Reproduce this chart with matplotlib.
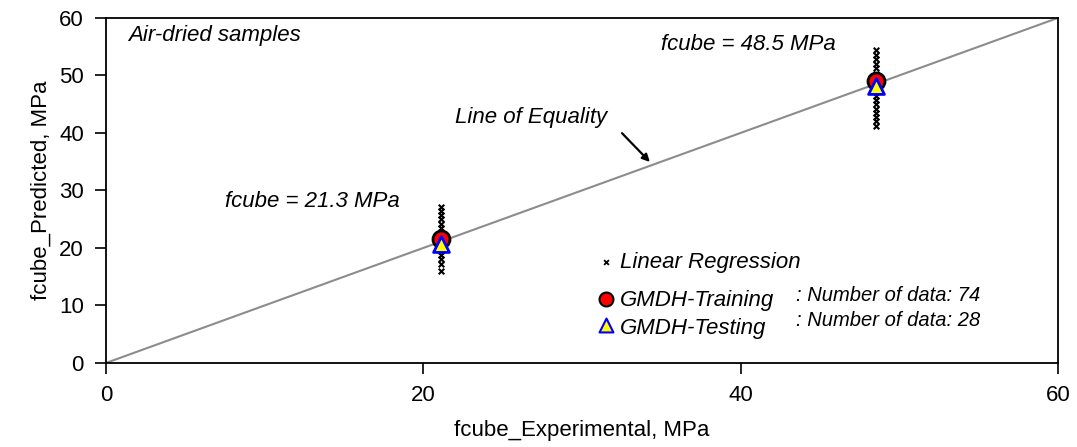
import numpy as np
import matplotlib
matplotlib.use("Agg")
from matplotlib import pyplot as plt

plt.rcParams['font.family'] = ['Liberation Sans', 'DejaVu Sans']

# experimental strength groups
exp_low = 21.1
exp_high = 48.5

# linear regression predictions
lr_low = [16.0, 17.2, 18.0, 18.8, 19.5, 20.2, 21.0, 22.0, 22.8, 23.5, 24.2, 25.0, 25.8, 26.5, 27.2]
lr_high = [41.2, 42.0, 42.8, 43.5, 44.2, 45.0, 45.8, 46.5, 47.2, 50.3, 51.2, 52.0, 52.8, 53.6, 54.5]

# GMDH predictions
train_x = [exp_low, exp_high]
train_y = [21.5, 49.0]
test_x = [exp_low, exp_high]
test_y = [20.7, 48.1]

fig = plt.figure(figsize=(10.77, 4.47), dpi=100)
ax = fig.add_axes([0.0984, 0.188, 0.884, 0.772])

ax.plot([0, 60], [0, 60], color='#8c8c8c', lw=1.5, ls='-', zorder=1)

ax.scatter([exp_low] * len(lr_low), lr_low, marker='x', s=16, color='black', lw=1.5, zorder=2)
ax.scatter([exp_high] * len(lr_high), lr_high, marker='x', s=16, color='black', lw=1.5, zorder=2)
ax.scatter(train_x, train_y, marker='o', s=150, facecolor='red', edgecolor='black', lw=2, zorder=3)
ax.scatter(test_x, test_y, marker='^', s=130, facecolor='yellow', edgecolor='blue', lw=2, zorder=4)

ax.set_xlim(0, 60)
ax.set_ylim(0, 60)
ax.set_xticks([0, 20, 40, 60])
ax.set_yticks(np.arange(0, 61, 10))
ax.tick_params(direction='out', length=8, width=1.2, labelsize=16, pad=8)
for s in ax.spines.values():
    s.set_linewidth(1.3)

ax.set_xlabel("fcube_Experimental, MPa", fontsize=16, labelpad=10)
ax.set_ylabel("fcube_Predicted, MPa", fontsize=16, labelpad=5)

fs = 16
ax.text(1.4, 57, "Air-dried samples", style='italic', fontsize=fs, va='center')
ax.text(46.0, 55.3, "fcube = 48.5 MPa", style='italic', fontsize=fs, va='center', ha='right')
ax.text(7.5, 28.0, "fcube = 21.3 MPa", style='italic', fontsize=fs, va='center')
ax.text(31.6, 42.6, "Line of Equality", style='italic', fontsize=fs, va='center', ha='right')
ax.annotate("", xy=(34.4, 34.6), xytext=(32.4, 40.3),
            arrowprops=dict(arrowstyle='-|>', color='black', lw=1.6, mutation_scale=11))

# legend drawn by hand like the original
ax.scatter([31.5], [17.6], marker='x', s=12, color='black', lw=1.3)
ax.text(32.4, 17.4, "Linear Regression", style='italic', fontsize=fs, va='center')
ax.scatter([31.5], [11.2], marker='o', s=100, facecolor='red', edgecolor='black', lw=1.5)
ax.text(32.4, 10.9, "GMDH-Training", style='italic', fontsize=fs, va='center')
ax.scatter([31.5], [6.6], marker='^', s=100, facecolor='yellow', edgecolor='blue', lw=1.5)
ax.text(32.4, 6.0, "GMDH-Testing", style='italic', fontsize=fs, va='center')
ax.text(43.5, 11.8, ": Number of data: 74", style='italic', fontsize=14.5, va='center')
ax.text(43.5, 7.4, ": Number of data: 28", style='italic', fontsize=14.5, va='center')

fig.savefig("out.png", dpi=100)
